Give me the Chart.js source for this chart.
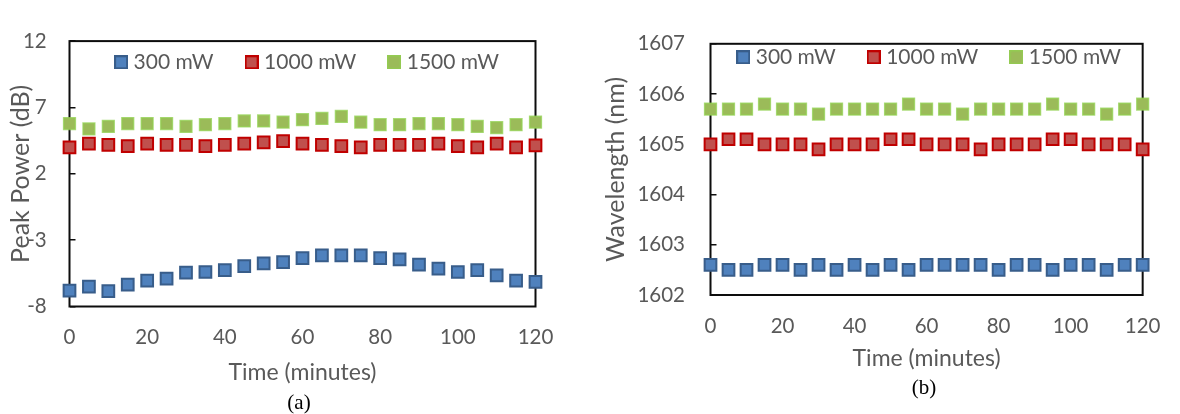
<!DOCTYPE html>
<html><head><meta charset="utf-8">
<script src="https://cdn.jsdelivr.net/npm/chart.js@4.4.1/dist/chart.umd.min.js"></script>
<style>
html,body{margin:0;padding:0;background:#fff;width:1180px;height:414px;overflow:hidden}
#wrap{position:relative;width:1180px;height:414px}
canvas{position:absolute;top:0}
#cA{left:0}
#cB{left:590px}
.cap{position:absolute;font-family:'Liberation Serif','Times New Roman',serif;font-size:21px;color:#000;transform:translate(-50%,-50%);white-space:nowrap}
</style></head><body>
<div id="wrap">
<canvas id="cA" width="590" height="414"></canvas>
<canvas id="cB" width="590" height="414"></canvas>
<div class="cap" style="left:299px;top:402px">(a)</div>
<div class="cap" style="left:924px;top:387px">(b)</div>
</div>
<script>
// ---------- data ----------
const timeMin = [0,5,10,15,20,25,30,35,40,45,50,55,60,65,70,75,80,85,90,95,100,105,110,115,120];
const seriesNames = ['300 mW','1000 mW','1500 mW'];
const xTicks = [0,20,40,60,80,100,120];

// (a) Peak power (dB)
const peak300  = [-6.8,-6.5,-6.85,-6.35,-6.05,-5.9,-5.45,-5.4,-5.25,-4.95,-4.75,-4.65,-4.35,-4.15,-4.15,-4.15,-4.35,-4.45,-4.85,-5.15,-5.4,-5.25,-5.65,-6.05,-6.15];
const peak1000 = [4.0,4.27,4.18,4.08,4.27,4.18,4.18,4.08,4.18,4.27,4.37,4.47,4.27,4.18,4.08,4.0,4.18,4.18,4.18,4.27,4.08,4.0,4.27,4.0,4.15];
const peak1500 = [5.79,5.38,5.57,5.79,5.79,5.79,5.57,5.7,5.79,5.98,5.98,5.89,6.08,6.17,6.32,5.89,5.7,5.7,5.79,5.79,5.7,5.57,5.48,5.7,5.89];
const peakTicks = [-8,-3,2,7,12];

// (b) Wavelength (nm)
const wl300  = [1602.6,1602.5,1602.5,1602.6,1602.6,1602.5,1602.6,1602.5,1602.6,1602.5,1602.6,1602.5,1602.6,1602.6,1602.6,1602.6,1602.5,1602.6,1602.6,1602.5,1602.6,1602.6,1602.5,1602.6,1602.6];
const wl1000 = [1605.0,1605.1,1605.1,1605.0,1605.0,1605.0,1604.9,1605.0,1605.0,1605.0,1605.1,1605.1,1605.0,1605.0,1605.0,1604.9,1605.0,1605.0,1605.0,1605.1,1605.1,1605.0,1605.0,1605.0,1604.9];
const wl1500 = [1605.7,1605.7,1605.7,1605.8,1605.7,1605.7,1605.6,1605.7,1605.7,1605.7,1605.7,1605.8,1605.7,1605.7,1605.6,1605.7,1605.7,1605.7,1605.7,1605.8,1605.7,1605.7,1605.6,1605.7,1605.8];
const wlTicks = [1602,1603,1604,1605,1606,1607];

// ---------- styles ----------
const FONT = "Lato, 'Open Sans', sans-serif";
const TXT = '#595959';
const fills   = ['#4F81BD','#C0504D','#9BBB59'];
const borders = ['#385D8A','#C00000','rgba(146,208,80,0.75)'];
const bws     = [2,2,1.5];

function makeIcon(i){
  const c = document.createElement('canvas');
  c.width = 14; c.height = 14;
  const g = c.getContext('2d');
  g.fillStyle = fills[i]; g.fillRect(0,0,14,14);
  g.strokeStyle = borders[i]; g.lineWidth = bws[i];
  g.strokeRect(bws[i]/2, bws[i]/2, 14-bws[i], 14-bws[i]);
  return c;
}
const legendIcons = [0,1,2].map(makeIcon);

const framePlugin = {
  id:'frame',
  beforeDatasetsDraw(chart){
    const {ctx, chartArea:a} = chart;
    ctx.save();
    ctx.strokeStyle = '#0d0d0d'; ctx.lineWidth = 2;
    ctx.strokeRect(a.left, a.top, a.right-a.left, a.bottom-a.top);
    ctx.restore();
  }
};
const legendPlace = {
  id:'legendPlace',
  beforeDraw(chart, args, opts){
    const lg = chart.legend, a = chart.chartArea;
    lg.left = a.left + opts.dx - 100; lg.right = a.right + opts.dx + 100;
    lg.width = lg.right - lg.left;
    lg.top = opts.cy - opts.pad - opts.fs/2; lg.height = 60; lg.bottom = lg.top + 60;
  }
};

function makeChart(id, ys, yTicks, yTitle, L){
  const datasets = ys.map((arr,i)=>({
    label: seriesNames[i],
    data: timeMin.map((t,k)=>({x:t, y:arr[k]})),
    showLine:false, clip:false,
    pointStyle:'rect', pointRadius:8.3, pointHoverRadius:8.3,
    pointBackgroundColor: fills[i], pointBorderColor: borders[i], pointBorderWidth: bws[i],
    backgroundColor: fills[i], borderColor: borders[i], borderWidth: bws[i]
  }));
  return new Chart(document.getElementById(id), {
    type:'scatter',
    data:{datasets},
    plugins:[framePlugin, legendPlace],
    options:{
      responsive:false, animation:false, devicePixelRatio:1,
      layout:{padding:{left:0, right:L.padR, top:L.padT, bottom:0}},
      plugins:{
        tooltip:{enabled:false},
        legendPlace:{dx:L.legDx, cy:L.legCy, pad:36, fs:21},
        legend:{
          position:'top', maxHeight:1, align:'center',
          labels:{
            usePointStyle:true, boxWidth:4, boxHeight:14, padding:36,
            color:TXT, font:{family:FONT, size:21},
            generateLabels(chart){
              const items = Chart.defaults.plugins.legend.labels.generateLabels(chart);
              items.forEach((it,i)=>{ it.pointStyle = legendIcons[i]; });
              return items;
            }
          }
        }
      },
      scales:{
        x:{
          type:'linear', min:0, max:120,
          afterBuildTicks(s){ s.ticks = xTicks.map(v=>({value:v})); },
          ticks:{color:TXT, font:{family:FONT, size:20.5}, padding:L.xTickPad, maxRotation:0, autoSkip:false, callback:v=>String(v)},
          grid:{display:false, drawTicks:false},
          border:{display:false},
          title:{display:true, text:'Time (minutes)', color:TXT, font:{family:FONT, size:23}, padding:{top:0, bottom:L.xTitlePad}},
          afterFit(s){ s.height = L.xH; }
        },
        y:{
          type:'linear', min:yTicks[0], max:yTicks[yTicks.length-1],
          afterBuildTicks(s){ s.ticks = yTicks.map(v=>({value:v})); },
          ticks:{color:TXT, font:{family:FONT, size:20.5}, padding:L.yTickPad, autoSkip:false, callback:v=>String(v)},
          grid:{display:true, drawOnChartArea:false, drawTicks:true, tickLength:-6, color:'#0d0d0d', lineWidth:1.5},
          border:{display:false},
          title:{display:true, text:yTitle, color:TXT, font:{family:FONT, size:25}, padding:{top:L.yTitlePad, bottom:0}},
          afterFit(s){ s.width = L.yW; }
        }
      }
    }
  });
}

makeChart('cA', [peak300, peak1000, peak1500], peakTicks, 'Peak Power (dB)',
  {padR:54.5, padT:28.3, xH:107.5, yW:69.5, xTickPad:19, xTitlePad:27.5, yTickPad:28.8, yTitlePad:5.7, legDx:6.5, legCy:62.3});
makeChart('cB', [wl300, wl1000, wl1500], wlTicks, 'Wavelength (nm)',
  {padR:26.7, padT:18.3, xH:119, yW:120.5, xTickPad:19.5, xTitlePad:41.9, yTickPad:31.5, yTitlePad:11.3, legDx:4.5, legCy:57.3});
</script>
</body></html>
